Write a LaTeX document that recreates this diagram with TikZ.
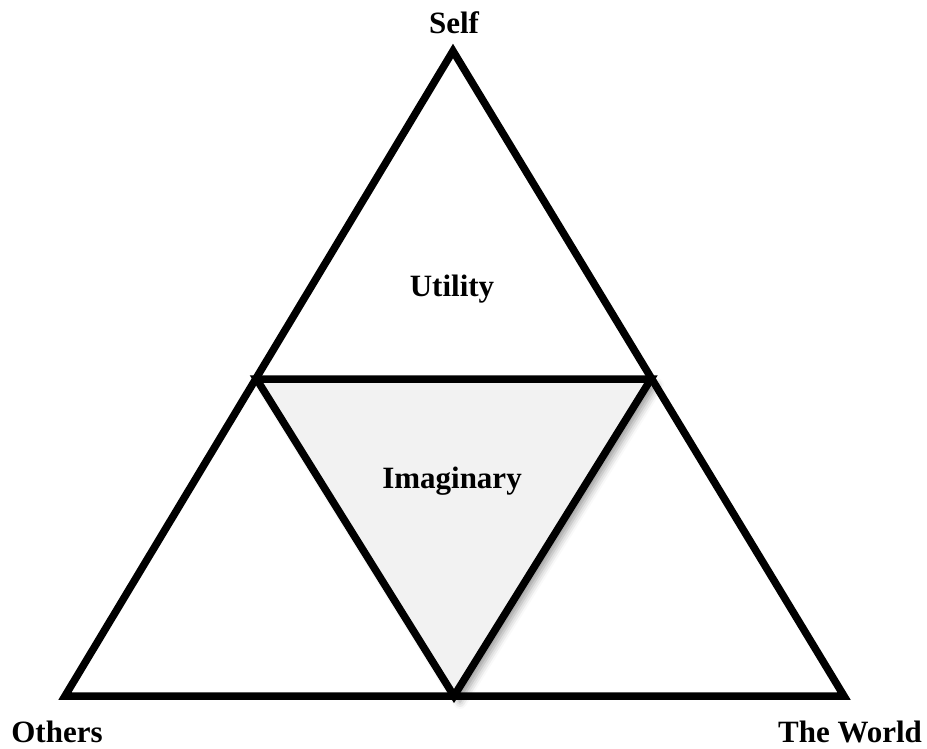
\documentclass[tikz,border=0pt]{standalone}
\usepackage{fontspec}
\setmainfont{Liberation Serif}
\usetikzlibrary{shadows.blur}
\begin{document}
\begin{tikzpicture}[x=1pt,y=-1pt,
  edge/.style={draw=black,line width=7.5pt,line join=miter},
  lbl/.style={font=\bfseries\fontsize{31}{34}\selectfont,inner sep=0pt}]
\useasboundingbox (0,0) rectangle (927,749);
\coordinate (A) at (453,51);
\coordinate (L) at (65,696);
\coordinate (R) at (844,696);
\coordinate (ML) at (256.5,379);
\coordinate (MR) at (651,379);
\coordinate (MB) at (454,696);
\draw[edge] (A) -- (L) -- (R) -- cycle;
\filldraw[edge,fill=black!5,blur shadow={shadow xshift=6pt,shadow yshift=-6pt,shadow blur radius=7pt,shadow opacity=40}] (ML) -- (MR) -- (MB) -- cycle;
\node[lbl,anchor=base] (self) at (454,34) {Self};
\node[lbl,anchor=base] (others) at (57,742) {Others};
\node[lbl,anchor=base] (world) at (850,742) {The World};
\node[lbl] (util) at (452,289) {Utility};
\node[lbl] (imag) at (452,481) {Imaginary};
\end{tikzpicture}
\end{document}
